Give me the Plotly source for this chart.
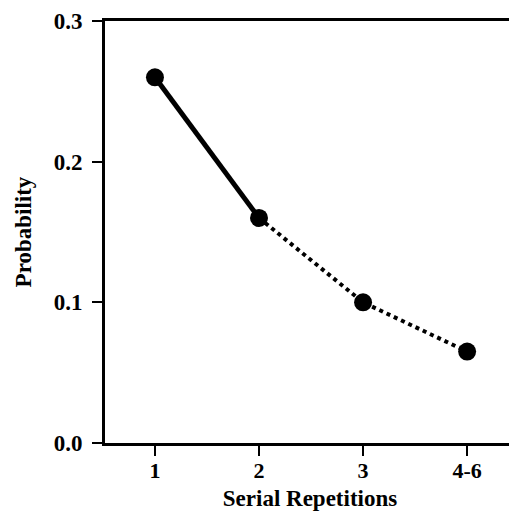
import plotly.graph_objects as go

categories = ["1", "2", "3", "4-6"]
probability = [0.26, 0.16, 0.10, 0.065]
y_ticks = [0.0, 0.1, 0.2, 0.3]
y_tick_labels = ["0.0", "0.1", "0.2", "0.3"]

FONT = "Liberation Serif"

fig = go.Figure()
# solid segment (1 -> 2)
fig.add_trace(go.Scatter(x=categories[:2], y=probability[:2], mode="lines",
                         line=dict(color="black", width=5), showlegend=False))
# dotted segment (2 -> 4-6)
fig.add_trace(go.Scatter(x=categories[1:], y=probability[1:], mode="lines",
                         line=dict(color="black", width=4, dash="dot"), showlegend=False))
# markers
fig.add_trace(go.Scatter(x=categories, y=probability, mode="markers",
                         marker=dict(color="black", size=18), showlegend=False))

fig.update_layout(
    width=509, height=508,
    margin=dict(l=97, r=2, t=13, b=73),
    paper_bgcolor="white", plot_bgcolor="white",
    font=dict(family=FONT, color="black"),
    xaxis=dict(
        type="category", categoryorder="array", categoryarray=categories,
        range=[-0.48, 3.46],
        showline=True, linecolor="black", linewidth=3, mirror=True,
        ticks="outside", ticklen=10, tickwidth=2, tickcolor="black",
        ticklabelstandoff=-4,
        showgrid=False, zeroline=False,
        tickfont=dict(family=FONT, size=22, color="black", weight="bold"),
        title=dict(text="<b>Serial Repetitions</b>", font=dict(family=FONT, size=23, color="black"),
                   standoff=8),
    ),
    yaxis=dict(
        range=[0, 0.3],
        tickvals=y_ticks, ticktext=y_tick_labels,
        showline=True, linecolor="black", linewidth=3,
        ticks="outside", ticklen=10, tickwidth=2, tickcolor="black",
        ticklabelstandoff=5,
        showgrid=False, zeroline=False,
        tickfont=dict(family=FONT, size=23, color="black", weight="bold"),
        title=dict(text="<b>Probability</b>", font=dict(family=FONT, size=23, color="black"),
                   standoff=16),
    ),
    shapes=[dict(type="line", xref="paper", yref="paper", x0=1, x1=1, y0=0, y1=1,
                 line=dict(color="#888888", width=1))],
)

fig.write_html("out.html")
